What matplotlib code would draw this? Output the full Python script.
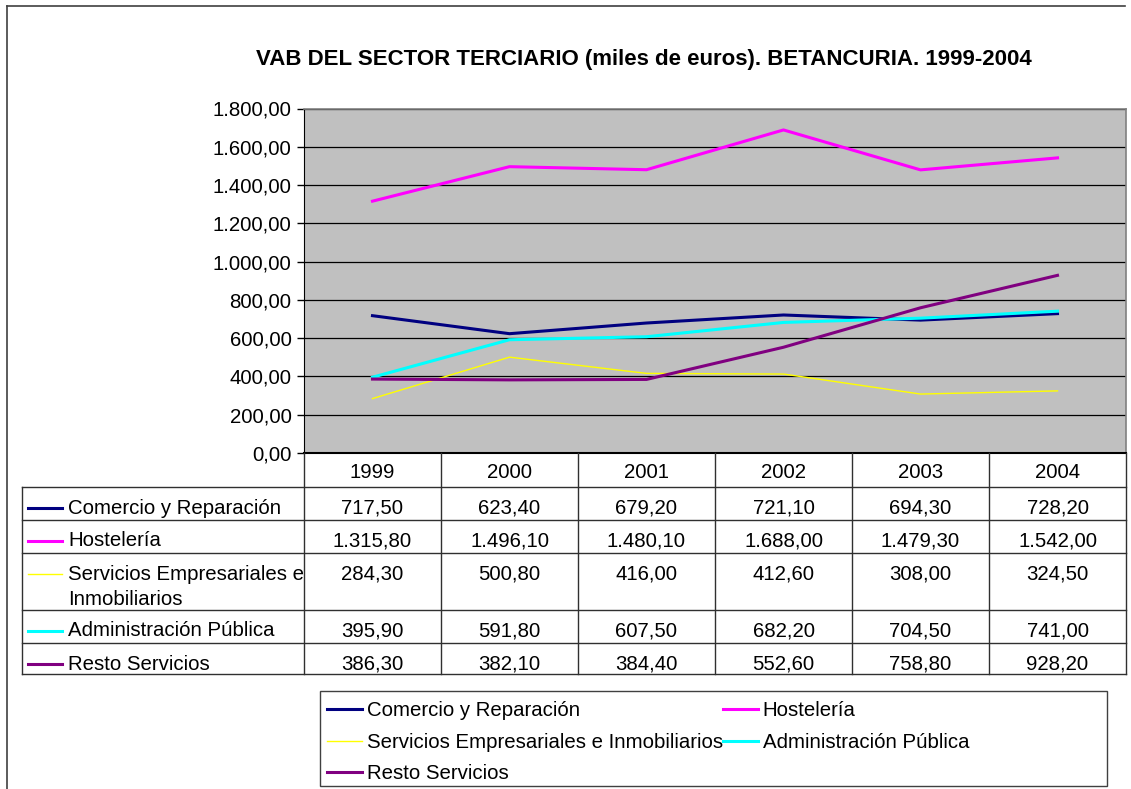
import matplotlib.pyplot as plt
from matplotlib.lines import Line2D
from matplotlib.patches import Rectangle

plt.rcParams["font.family"] = "Liberation Sans"
plt.rcParams["font.size"] = 14.7

W, H = 1131, 789

years = ["1999", "2000", "2001", "2002", "2003", "2004"]
names = [
    "Comercio y Reparación",
    "Hostelería",
    "Servicios Empresariales e Inmobiliarios",
    "Administración Pública",
    "Resto Servicios",
]
table_names = [
    "Comercio y Reparación",
    "Hostelería",
    "Servicios Empresariales e\nInmobiliarios",
    "Administración Pública",
    "Resto Servicios",
]
comercio = [717.5, 623.4, 679.2, 721.1, 694.3, 728.2]
hosteleria = [1315.8, 1496.1, 1480.1, 1688.0, 1479.3, 1542.0]
servicios = [284.3, 500.8, 416.0, 412.6, 308.0, 324.5]
administracion = [395.9, 591.8, 607.5, 682.2, 704.5, 741.0]
resto = [386.3, 382.1, 384.4, 552.6, 758.8, 928.2]
y_ticks = [0, 200, 400, 600, 800, 1000, 1200, 1400, 1600, 1800]

series = [comercio, hosteleria, servicios, administracion, resto]
colors = ["#000080", "#FF00FF", "#FFFF00", "#00FFFF", "#800080"]
widths = [2.2, 2.2, 1.0, 2.2, 2.2]


def fx(px):
    return px / W


def fy(py):
    return 1 - py / H


def es(v):
    # spanish number format: 1.315,80
    return f"{v:,.2f}".replace(",", "#").replace(".", ",").replace("#", ".")


fig = plt.figure(figsize=(W / 100, H / 100), dpi=100)

# plot area
left, right, top, bottom = 304, 1126, 108.5, 453
ax = fig.add_axes([fx(left), fy(bottom), fx(right - left), fy(top) - fy(bottom)])
ax.set_facecolor("#C0C0C0")
x = list(range(len(years)))
handles = []
for vals, c, lw, name in zip(series, colors, widths, names):
    (h,) = ax.plot(x, vals, color=c, lw=lw, label=name)
    handles.append(h)
ax.set_xlim(-0.5, len(years) - 0.5)
ax.set_ylim(0, 1800)
ax.set_yticks(y_ticks)
ax.set_yticklabels([es(v) for v in y_ticks])
ax.set_xticks([])
ax.yaxis.grid(True, color="#000000", lw=0.9)
ax.set_axisbelow(True)
ax.tick_params(axis="y", direction="out", length=5, width=1, pad=4, labelsize=14.7)
for s in ("top", "right"):
    ax.spines[s].set_color("#808080")
    ax.spines[s].set_linewidth(1.2)
ax.spines["left"].set_color("#000000")
ax.spines["bottom"].set_color("#000000")
ax.spines["bottom"].set_linewidth(1.5)

fig.text(fx(644), fy(60), "VAB DEL SECTOR TERCIARIO (miles de euros). BETANCURIA. 1999-2004",
         ha="center", va="center", fontsize=16, fontweight="bold")

# outer frame (left and top edges)
frame_kw = dict(color="#404040", lw=1.2, transform=fig.transFigure)
fig.add_artist(Line2D([fx(7), fx(7)], [fy(6), fy(H)], **frame_kw))
fig.add_artist(Line2D([fx(7), fx(1125)], [fy(6), fy(6)], **frame_kw))

# data table
grid_kw = dict(color="#303030", lw=1.0, transform=fig.transFigure)
col_w = (right - left) / len(years)
row_tops = [487, 520, 553, 610, 643]
table_bottom = 674
tab_left = 22
for i in range(len(years) + 1):
    xx = left + i * col_w
    fig.add_artist(Line2D([fx(xx), fx(xx)], [fy(bottom), fy(table_bottom)], **grid_kw))
for yy in row_tops + [table_bottom]:
    fig.add_artist(Line2D([fx(tab_left), fx(right)], [fy(yy), fy(yy)], **grid_kw))
fig.add_artist(Line2D([fx(tab_left), fx(tab_left)], [fy(row_tops[0]), fy(table_bottom)], **grid_kw))

for i, yr in enumerate(years):
    fig.text(fx(left + (i + 0.5) * col_w), fy(bottom + 25.5), yr, ha="center", va="baseline")

for r, (label, vals, c, lw) in enumerate(zip(table_names, series, colors, widths)):
    base = row_tops[r] + 26.5
    fig.add_artist(Line2D([fx(28), fx(62)], [fy(base - 6), fy(base - 6)], color=c, lw=lw,
                          transform=fig.transFigure))
    for k, part in enumerate(label.split("\n")):
        fig.text(fx(68), fy(base + k * 25.5), part, ha="left", va="baseline")
    for i, v in enumerate(vals):
        fig.text(fx(left + (i + 0.5) * col_w), fy(base), es(v), ha="center", va="baseline")

# legend
fig.add_artist(Rectangle((fx(320), fy(786)), fx(1107 - 320), fy(691) - fy(786),
                         transform=fig.transFigure, fill=False, edgecolor="#404040", lw=1.0))
order = [0, 2, 4, 1, 3]
fig.legend([handles[i] for i in order], [names[i] for i in order], ncol=2,
           loc="upper left", bbox_to_anchor=(fx(327), fy(701.5)), frameon=False,
           handlelength=1.7, handletextpad=0.25, columnspacing=0.0,
           labelspacing=0.6, borderpad=0.0, borderaxespad=0.0, fontsize=14.7)

fig.savefig("out.png", dpi=100)
